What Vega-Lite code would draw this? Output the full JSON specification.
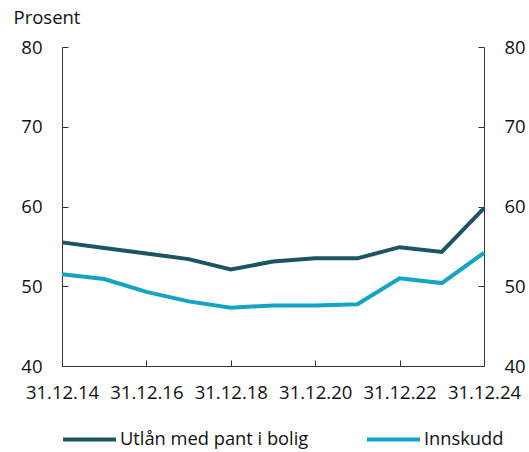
{
  "$schema": "https://vega.github.io/schema/vega-lite/v6.json",
  "width": 422,
  "height": 319,
  "autosize": {"type": "none"},
  "padding": {"left": 62, "top": 47, "right": 45, "bottom": 86},
  "background": "white",
  "config": {
    "font": "Open Sans",
    "view": {"stroke": null},
    "axis": {
      "labelFont": "Open Sans",
      "labelFontSize": 18.5,
      "labelColor": "#111",
      "domainColor": "#333",
      "tickColor": "#333",
      "grid": false
    },
    "legend": {"labelFont": "Open Sans", "labelFontSize": 18.3, "labelColor": "#111", "labelLimit": 400}
  },
  "data": {
    "values": [
      {"dato": "31.12.14", "serie": "Utlån med pant i bolig", "verdi": 55.5},
      {"dato": "31.12.15", "serie": "Utlån med pant i bolig", "verdi": 54.8},
      {"dato": "31.12.16", "serie": "Utlån med pant i bolig", "verdi": 54.1},
      {"dato": "31.12.17", "serie": "Utlån med pant i bolig", "verdi": 53.4},
      {"dato": "31.12.18", "serie": "Utlån med pant i bolig", "verdi": 52.1},
      {"dato": "31.12.19", "serie": "Utlån med pant i bolig", "verdi": 53.1},
      {"dato": "31.12.20", "serie": "Utlån med pant i bolig", "verdi": 53.5},
      {"dato": "31.12.21", "serie": "Utlån med pant i bolig", "verdi": 53.5},
      {"dato": "31.12.22", "serie": "Utlån med pant i bolig", "verdi": 54.9},
      {"dato": "31.12.23", "serie": "Utlån med pant i bolig", "verdi": 54.3},
      {"dato": "31.12.24", "serie": "Utlån med pant i bolig", "verdi": 59.8},
      {"dato": "31.12.14", "serie": "Innskudd", "verdi": 51.5},
      {"dato": "31.12.15", "serie": "Innskudd", "verdi": 50.9},
      {"dato": "31.12.16", "serie": "Innskudd", "verdi": 49.3},
      {"dato": "31.12.17", "serie": "Innskudd", "verdi": 48.1},
      {"dato": "31.12.18", "serie": "Innskudd", "verdi": 47.3},
      {"dato": "31.12.19", "serie": "Innskudd", "verdi": 47.6},
      {"dato": "31.12.20", "serie": "Innskudd", "verdi": 47.6},
      {"dato": "31.12.21", "serie": "Innskudd", "verdi": 47.75},
      {"dato": "31.12.22", "serie": "Innskudd", "verdi": 51.0},
      {"dato": "31.12.23", "serie": "Innskudd", "verdi": 50.4},
      {"dato": "31.12.24", "serie": "Innskudd", "verdi": 54.2}
    ]
  },
  "layer": [
    {
      "mark": {"type": "line", "strokeWidth": 4},
      "encoding": {
        "x": {
          "field": "dato",
          "type": "ordinal",
          "sort": null,
          "scale": {"type": "point", "padding": 0},
          "axis": {
            "values": ["31.12.14", "31.12.16", "31.12.18", "31.12.20", "31.12.22", "31.12.24"],
            "labelAngle": 0,
            "title": null,
            "tickSize": -6,
            "labelPadding": 32,
            "labelBaseline": "middle"
          }
        },
        "y": {
          "field": "verdi",
          "type": "quantitative",
          "scale": {"domain": [40, 80], "nice": false, "zero": false},
          "axis": {
            "values": [40, 50, 60, 70, 80],
            "tickSize": -6,
            "labelPadding": 26,
            "title": "Prosent",
            "titleAngle": 0,
            "titleAlign": "left",
            "titleBaseline": "middle",
            "titleX": -49,
            "titleY": -30,
            "titleFont": "Open Sans",
            "titleFontSize": 18.5,
            "titleFontWeight": "normal",
            "titleColor": "#111"
          }
        },
        "color": {
          "field": "serie",
          "type": "nominal",
          "sort": ["Utlån med pant i bolig", "Innskudd"],
          "scale": {"range": ["#1a5561", "#12a4c2"]},
          "legend": {
            "title": null,
            "orient": "none",
            "direction": "horizontal",
            "legendX": -1,
            "legendY": 364,
            "symbolType": "stroke",
            "symbolSize": 2809,
            "symbolStrokeWidth": 4,
            "labelOffset": 2,
            "columnPadding": 50
          }
        }
      }
    },
    {
      "mark": {"type": "line", "strokeWidth": 4, "opacity": 0},
      "encoding": {
        "x": {"field": "dato", "type": "ordinal", "sort": null},
        "y": {
          "field": "verdi",
          "type": "quantitative",
          "scale": {"domain": [40, 80], "nice": false, "zero": false},
          "axis": {
            "orient": "right",
            "values": [40, 50, 60, 70, 80],
            "tickSize": -6,
            "labelPadding": 26,
            "title": null
          }
        },
        "detail": {"field": "serie"}
      }
    }
  ],
  "resolve": {"scale": {"y": "independent"}}
}
